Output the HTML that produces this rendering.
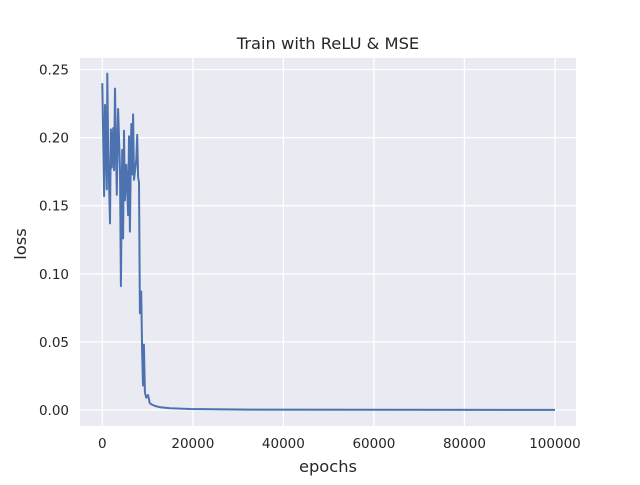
<!DOCTYPE html>
<html><head><meta charset="utf-8"><style>
body{margin:0;background:#fff;font-family:"Liberation Sans","DejaVu Sans",sans-serif}
</style></head><body>
<svg id="chart" width="640" height="480" xmlns="http://www.w3.org/2000/svg" font-family="DejaVu Sans, Liberation Sans, sans-serif">
<rect width="640" height="480" fill="#fff"/>
<rect x="80" y="58" width="496" height="368" fill="#eaeaf2"/>
<g id="grid"></g>
<g id="ticks"></g>
<text x="328" y="49" font-size="16.3" text-anchor="middle" fill="#262626">Train with ReLU &amp; MSE</text>
<text x="328" y="472" font-size="16.3" text-anchor="middle" fill="#262626">epochs</text>
<text x="26" y="244" font-size="16.3" text-anchor="middle" fill="#262626" transform="rotate(-90 26 244)">loss</text>
<path id="line" fill="none" stroke="#4c72b0" stroke-width="2" stroke-linejoin="round"/>
</svg>
<script>
const epochs=[0,400,600,1000,1100,1300,1700,1900,2100,2400,2600,2800,3200,3500,3900,4100,4400,4600,4800,5000,5300,5700,5900,6100,6400,6600,6800,7000,7500,7700,7900,8100,8300,8600,8800,9000,9200,9400,9700,10100,10500,11000,11600,12800,15000,19400,32700,100000];
const losses=[0.24,0.157,0.224,0.162,0.247,0.191,0.137,0.206,0.178,0.207,0.176,0.236,0.158,0.221,0.176,0.091,0.191,0.126,0.205,0.154,0.180,0.143,0.201,0.131,0.21,0.173,0.217,0.169,0.184,0.202,0.171,0.167,0.071,0.087,0.044,0.018,0.048,0.013,0.009,0.011,0.005,0.004,0.003,0.002,0.0013,0.0007,0.0003,0.0001];
const xTicks=[0,20000,40000,60000,80000,100000];
const yTicks=[0,0.05,0.10,0.15,0.20,0.25];
const xs=v=>102.3+v*(555-102.3)/100000;
const ys=v=>410-v*(410-69.5)/0.25;
const NS="http://www.w3.org/2000/svg";
const grid=document.getElementById('grid'),ticks=document.getElementById('ticks');
xTicks.forEach(t=>{
 const l=document.createElementNS(NS,'line');
 
 
 l.setAttribute('x1',xs(t));l.setAttribute('x2',xs(t));l.setAttribute('y1',58);l.setAttribute('y2',426);
 l.setAttribute('stroke','#fff');l.setAttribute('stroke-width','1.3');grid.appendChild(l);
 const tx=document.createElementNS(NS,'text');
 
 
 tx.setAttribute('x',xs(t));tx.setAttribute('y',448);tx.setAttribute('font-size','13.5');tx.setAttribute('text-anchor','middle');tx.setAttribute('fill','#262626');
 tx.textContent=String(t);ticks.appendChild(tx);
});
yTicks.forEach(t=>{
 const l=document.createElementNS(NS,'line');
 
 
 l.setAttribute('x1',80);l.setAttribute('x2',576);l.setAttribute('y1',ys(t));l.setAttribute('y2',ys(t));
 l.setAttribute('stroke','#fff');l.setAttribute('stroke-width','1.3');grid.appendChild(l);
 const tx=document.createElementNS(NS,'text');
 
 
 tx.setAttribute('x',69);tx.setAttribute('y',ys(t)+5);tx.setAttribute('font-size','13.5');tx.setAttribute('text-anchor','end');tx.setAttribute('fill','#262626');
 tx.textContent=t.toFixed(2);ticks.appendChild(tx);
});
document.getElementById('line').setAttribute('d',epochs.map((e,i)=>(i?'L':'M')+xs(e).toFixed(1)+','+ys(losses[i]).toFixed(1)).join(''));
</script>
</body></html>
